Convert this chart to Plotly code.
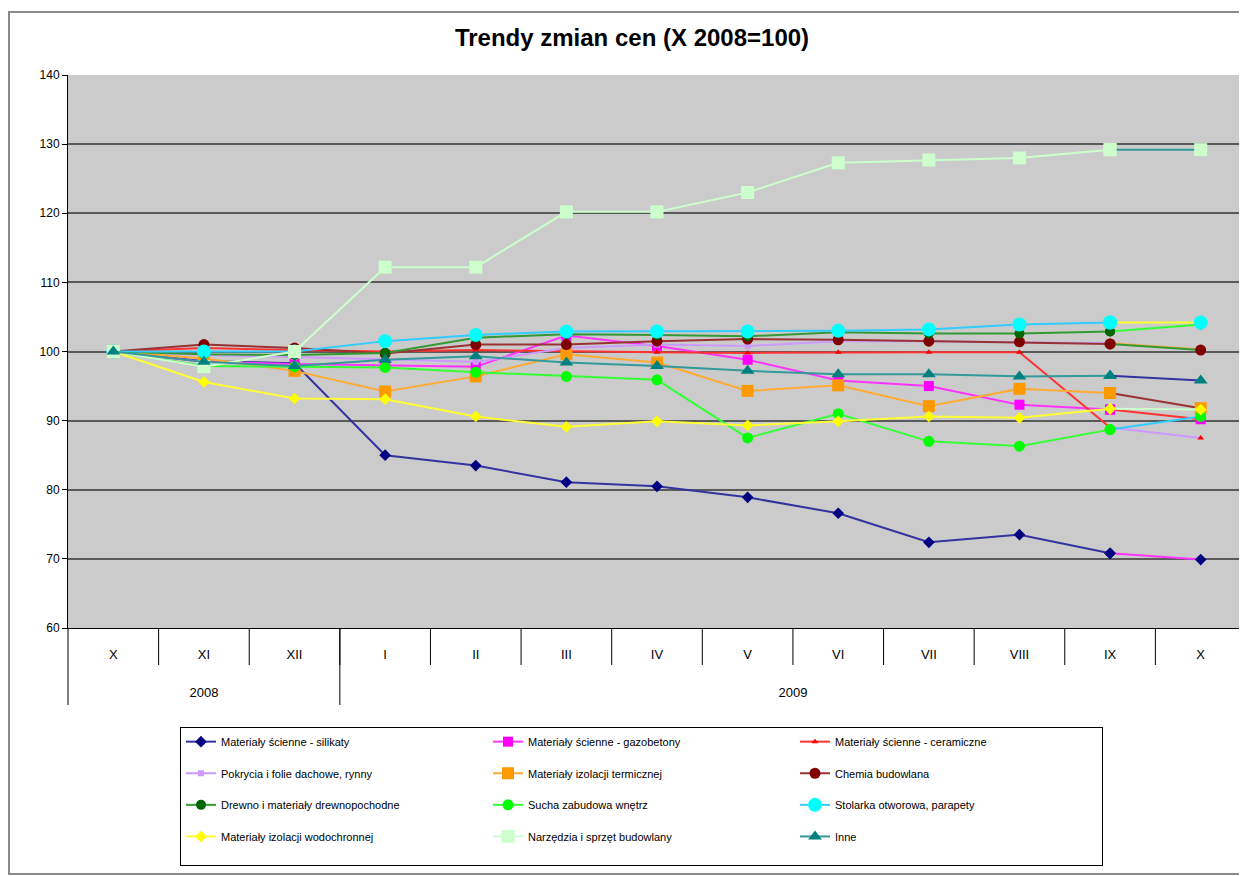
import plotly.graph_objects as go

# ---------------- data ----------------
months = ["X", "XI", "XII", "I", "II", "III", "IV", "V", "VI", "VII", "VIII", "IX", "X"]
year_labels = ["2008", "2009"]
year_months = [3, 10]          # number of months belonging to each year

names = [
    "Materiały ścienne - silikaty",
    "Materiały ścienne - gazobetony",
    "Materiały ścienne - ceramiczne",
    "Pokrycia i folie dachowe, rynny",
    "Materiały izolacji termicznej",
    "Chemia budowlana",
    "Drewno i materiały drewnopochodne",
    "Sucha zabudowa wnętrz",
    "Stolarka otworowa, parapety",
    "Materiały izolacji wodochronnej",
    "Narzędzia i sprzęt budowlany",
    "Inne",
]

silikaty = [100, 98.6, 98.3, 85.0, 83.5, 81.1, 80.5, 78.9, 76.6, 72.4, 73.5, 70.8, 69.9]
gazobetony = [100, 98.5, 98.2, 98.0, 97.8, 102.3, 100.8, 98.8, 95.8, 95.0, 92.3, 91.6, 90.2]
ceramiczne = [100, 100.5, 100.2, 100.0, 100.2, 100.0, 99.9, 99.8, 99.9, 99.9, 99.9, 89.0, 87.5]
pokrycia = [100, 99.5, 99.2, 98.8, 98.5, 100.5, 101.0, 100.8, 101.5, 101.5, 101.4, 101.2, 100.3]
termiczne = [100, 99.0, 97.2, 94.2, 96.4, 99.6, 98.4, 94.3, 95.1, 92.1, 94.6, 94.0, 91.8]
chemia = [100, 101.0, 100.5, 99.7, 101.0, 101.0, 101.5, 101.8, 101.7, 101.5, 101.4, 101.1, 100.2]
drewno = [100, 99.6, 99.5, 99.8, 102.0, 102.5, 102.4, 102.2, 102.8, 102.6, 102.6, 102.9, 103.9]
sucha = [100, 97.9, 97.8, 97.7, 97.0, 96.4, 95.9, 87.5, 91.0, 87.0, 86.3, 88.7, 90.6]
stolarka = [100, 100.0, 100.0, 101.5, 102.4, 102.9, 102.9, 102.9, 103.0, 103.2, 103.9, 104.2, 104.2]
wodochronne = [100, 95.6, 93.2, 93.1, 90.6, 89.1, 89.9, 89.3, 89.9, 90.6, 90.4, 91.7, 91.6]
narzedzia = [100, 97.8, 100.0, 112.2, 112.2, 120.2, 120.2, 123.0, 127.3, 127.7, 128.0, 129.2, 129.2]
inne = [100, 98.5, 97.9, 98.8, 99.3, 98.4, 97.9, 97.2, 96.7, 96.7, 96.4, 96.5, 95.8]

series = [silikaty, gazobetony, ceramiczne, pokrycia, termiczne, chemia,
          drewno, sucha, stolarka, wodochronne, narzedzia, inne]

# ---------------- style ----------------
marker_colors = ["#000080", "#FF00FF", "#FF0000", "#CC99FF", "#FF9900", "#800000",
                 "#006600", "#00FF00", "#00FFFF", "#FFFF00", "#CCFFCC", "#008080"]
line_colors = ["#3333A0", "#FF33FF", "#FF3333", "#CC99FF", "#FFAA33", "#993333",
               "#339933", "#33FF33", "#33CCFF", "#FFFF33", "#CCFFCC", "#339999"]
symbols = ["diamond", "square", "triangle-up", "square", "square", "circle",
           "circle", "circle", "circle", "diamond", "square", "triangle-up"]
sizes = [9, 10, 6, 6, 12, 11, 10, 11, 14, 9, 13, 12]

xi = list(range(len(months)))

fig = go.Figure()
n = len(series)
for i, (nm, ys) in enumerate(zip(names, series)):
    mk = dict(color=marker_colors[i], symbol=symbols[i], size=sizes[i], line=dict(width=0))
    fig.add_trace(go.Scatter(
        x=xi[:-1], y=ys[:-1], name=nm + "<br>&nbsp;", mode="lines+markers",
        line=dict(color=line_colors[i], width=2), marker=mk,
    ))
    # last segment drawn in the colour of the following series, as in the original
    fig.add_trace(go.Scatter(
        x=xi[-2:], y=ys[-2:], mode="lines+markers", showlegend=False,
        line=dict(color=line_colors[(i + 1) % n], width=2), marker=mk,
        hoverinfo="skip",
    ))

# year label positions (centre of each year's months)
year_pos = []
start = 0
for cnt in year_months:
    year_pos.append(start + (cnt - 1) / 2)
    start += cnt

# invisible carrier so the year axis is drawn
fig.add_trace(go.Scatter(x=year_pos, y=[60, 60], xaxis="x2", yaxis="y", mode="markers",
                         marker=dict(opacity=0, size=1), showlegend=False, hoverinfo="skip"))

W, H = 1239, 868          # page body has an 8px margin inside the 1247x876 window
L, R, T, B = 60, 1, 67, 248
pw, ph = W - L - R, H - T - B
ncat = len(months)

shapes = []
# month separator ticks
for k in range(1, ncat):
    shapes.append(dict(type="line", xref="paper", yref="paper",
                       x0=k / ncat, x1=k / ncat, y0=0, y1=-37 / ph,
                       line=dict(color="#000000", width=1)))
# year dividers
b = 0
for cnt in [0] + year_months[:-1]:
    b += cnt
    shapes.append(dict(type="line", xref="paper", yref="paper",
                       x0=b / ncat, x1=b / ncat, y0=0, y1=-77 / ph,
                       line=dict(color="#000000", width=1)))
# outer chart border
shapes.append(dict(type="rect", xref="paper", yref="paper",
                   x0=(1 - L) / pw, x1=(1240 - L) / pw,
                   y0=(T + ph - 866) / ph, y1=(T + ph - 4) / ph,
                   line=dict(color="#8a8a8a", width=2), layer="below"))

fig.update_layout(
    width=W, height=H,
    margin=dict(l=L, r=R, t=T, b=B),
    paper_bgcolor="#FFFFFF",
    plot_bgcolor="#CBCBCB",
    font=dict(family="Liberation Sans, Arial, sans-serif", color="#000000", size=12),
    title=dict(text="<b>Trendy zmian cen (X 2008=100)</b>", x=624 / W, xanchor="center",
               y=1 - 30 / H, yanchor="middle", font=dict(size=24)),
    showlegend=True,
    legend=dict(orientation="h", x=(172 - L) / pw, xanchor="left",
                y=-(719 - T - ph) / ph, yanchor="top", valign="top",
                bordercolor="#000000", borderwidth=1, bgcolor="#FFFFFF",
                font=dict(size=11), entrywidth=262, entrywidthmode="pixels",
                traceorder="normal"),
    shapes=shapes,
    hovermode=False,
    xaxis=dict(range=[-0.5, ncat - 0.5], tickmode="array", tickvals=xi, ticktext=months,
               ticks="outside", ticklen=14, tickcolor="rgba(0,0,0,0)",
               showline=True, linecolor="#000000", linewidth=1, showgrid=False,
               zeroline=False, tickfont=dict(size=13)),
    xaxis2=dict(range=[-0.5, ncat - 0.5], overlaying="x", anchor="y", side="bottom",
                tickmode="array", tickvals=year_pos, ticktext=year_labels,
                ticks="outside", ticklen=52, tickcolor="rgba(0,0,0,0)",
                showline=False, showgrid=False, zeroline=False, tickfont=dict(size=13)),
    yaxis=dict(range=[60, 140], dtick=10, tick0=60, showline=True, linecolor="#000000",
               linewidth=1, ticks="outside", ticklen=5, tickcolor="#000000",
               showgrid=True, gridcolor="#5a5a5a", gridwidth=2, zeroline=False,
               tickfont=dict(size=12)),
)

fig.write_html("out.html")
